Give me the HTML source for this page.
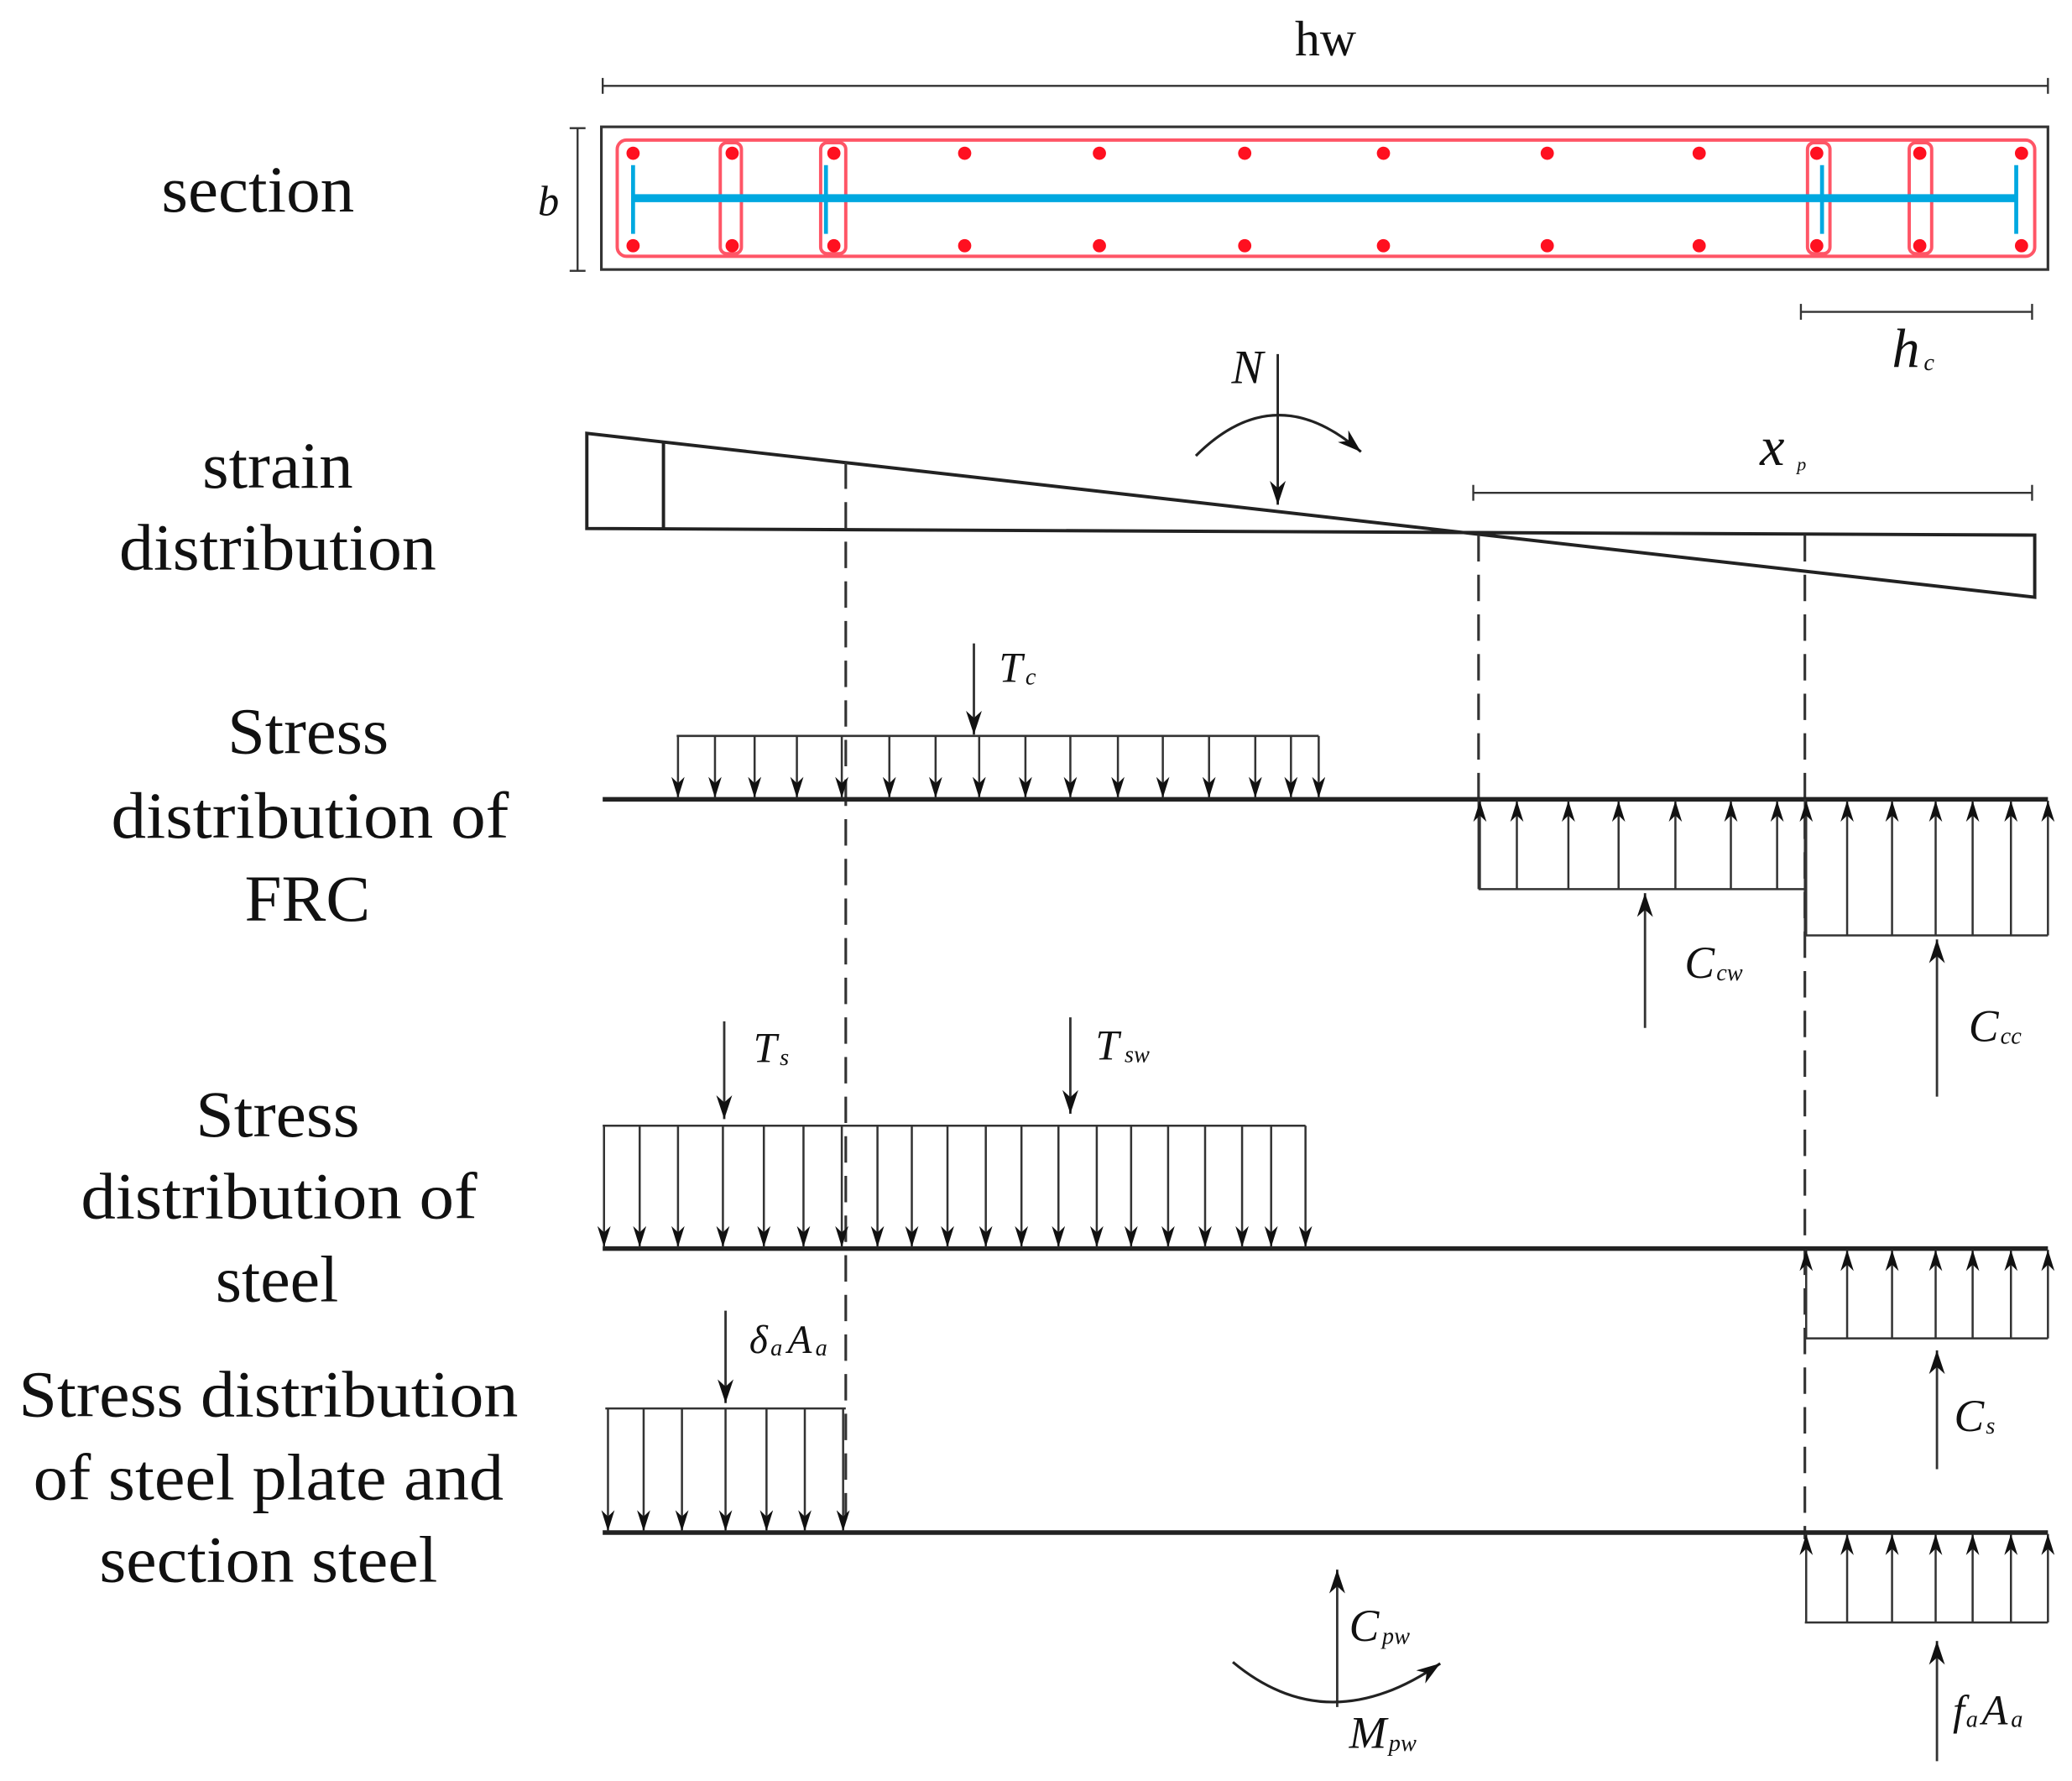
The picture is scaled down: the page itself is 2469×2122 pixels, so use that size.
<!DOCTYPE html>
<html><head><meta charset="utf-8"><style>
html,body{margin:0;padding:0;background:#fff;}
svg{display:block;}
text{font-family:"Liberation Serif",serif;fill:#111;}
.l{font-size:50px;}
.i{font-style:italic;font-size:36px;}
.s{font-size:18px;font-style:italic;}
</style></head><body>
<svg width="2469" height="2122" viewBox="0 0 1568 1348" xmlns="http://www.w3.org/2000/svg">
<defs>
<marker id="a" viewBox="0 0 10 10" refX="10" refY="5" markerWidth="16" markerHeight="10" markerUnits="userSpaceOnUse" orient="auto" preserveAspectRatio="none"><path d="M0,0 L10,5 L0,10 L3,5 Z" fill="#111"/></marker>
<marker id="b" viewBox="0 0 10 10" refX="10" refY="5" markerWidth="18" markerHeight="12" markerUnits="userSpaceOnUse" orient="auto" preserveAspectRatio="none"><path d="M0,0 L10,5 L0,10 L3,5 Z" fill="#111"/></marker>
</defs>
<!-- left labels -->
<text class="l" x="122" y="160" textLength="146" lengthAdjust="spacingAndGlyphs">section</text>
<text class="l" x="153" y="369" textLength="114" lengthAdjust="spacingAndGlyphs">strain</text>
<text class="l" x="90" y="431" textLength="240" lengthAdjust="spacingAndGlyphs">distribution</text>
<text class="l" x="172" y="570" textLength="122" lengthAdjust="spacingAndGlyphs">Stress</text>
<text class="l" x="84" y="634" textLength="301" lengthAdjust="spacingAndGlyphs">distribution of</text>
<text class="l" x="185" y="697" textLength="95" lengthAdjust="spacingAndGlyphs">FRC</text>
<text class="l" x="148" y="860" textLength="124" lengthAdjust="spacingAndGlyphs">Stress</text>
<text class="l" x="61" y="922" textLength="300" lengthAdjust="spacingAndGlyphs">distribution of</text>
<text class="l" x="163" y="985" textLength="93" lengthAdjust="spacingAndGlyphs">steel</text>
<text class="l" x="14" y="1072" textLength="378" lengthAdjust="spacingAndGlyphs">Stress distribution</text>
<text class="l" x="25" y="1135" textLength="356" lengthAdjust="spacingAndGlyphs">of steel plate and</text>
<text class="l" x="75" y="1197" textLength="256" lengthAdjust="spacingAndGlyphs">section steel</text>

<!-- hw dimension -->
<text x="980" y="42" style="font-size:38px">hw</text>
<g stroke="#333" stroke-width="1.5" fill="none">
<line x1="456" y1="65" x2="1550" y2="65"/><line x1="456" y1="59" x2="456" y2="71"/><line x1="1550" y1="59" x2="1550" y2="71"/>
<line x1="437" y1="97" x2="437" y2="205"/><line x1="431" y1="97" x2="443" y2="97"/><line x1="431" y1="205" x2="443" y2="205"/>
<line x1="1363" y1="236" x2="1538" y2="236"/><line x1="1363" y1="230" x2="1363" y2="242"/><line x1="1538" y1="230" x2="1538" y2="242"/>
<line x1="1115" y1="373" x2="1538" y2="373"/><line x1="1115" y1="367" x2="1115" y2="379"/><line x1="1538" y1="367" x2="1538" y2="379"/>
</g>
<text class="i" x="407" y="163" style="font-size:32px">b</text>
<text class="i" x="1432" y="278" style="font-size:42px">h</text><text class="s" x="1456" y="280">c</text>
<text class="i" x="1332" y="352" style="font-size:42px">x</text><text class="s" x="1360" y="356" style="font-size:14px">p</text>

<!-- section -->
<rect x="455" y="96" width="1095" height="108" fill="none" stroke="#333" stroke-width="2"/>
<g fill="none" stroke="#ff5566" stroke-width="2.5">
<rect x="467" y="106" width="1073" height="88" rx="7"/>
<rect x="545" y="108" width="16" height="84" rx="5"/>
<rect x="621" y="108" width="19" height="84" rx="5"/>
<rect x="1368" y="108" width="17" height="84" rx="5"/>
<rect x="1445" y="108" width="17" height="84" rx="5"/>
</g>
<g stroke="#00a8e0" stroke-width="6"><line x1="478" y1="150" x2="1525" y2="150"/></g>
<g stroke="#00a8e0" stroke-width="3">
<line x1="479" y1="125" x2="479" y2="177"/><line x1="625" y1="125" x2="625" y2="177"/>
<line x1="1379" y1="125" x2="1379" y2="177"/><line x1="1526" y1="125" x2="1526" y2="177"/>
</g>
<g fill="#ff1020">
<circle cx="479" cy="116" r="5"/><circle cx="554" cy="116" r="5"/><circle cx="631" cy="116" r="5"/><circle cx="730" cy="116" r="5"/><circle cx="832" cy="116" r="5"/><circle cx="942" cy="116" r="5"/><circle cx="1047" cy="116" r="5"/><circle cx="1171" cy="116" r="5"/><circle cx="1286" cy="116" r="5"/><circle cx="1375" cy="116" r="5"/><circle cx="1453" cy="116" r="5"/><circle cx="1530" cy="116" r="5"/>
<circle cx="479" cy="186" r="5"/><circle cx="554" cy="186" r="5"/><circle cx="631" cy="186" r="5"/><circle cx="730" cy="186" r="5"/><circle cx="832" cy="186" r="5"/><circle cx="942" cy="186" r="5"/><circle cx="1047" cy="186" r="5"/><circle cx="1171" cy="186" r="5"/><circle cx="1286" cy="186" r="5"/><circle cx="1375" cy="186" r="5"/><circle cx="1453" cy="186" r="5"/><circle cx="1530" cy="186" r="5"/>
</g>

<!-- strain -->
<g stroke="#222" stroke-width="2.5" fill="none">
<path d="M444,328 L444,400 L1540,405 L1540,452 Z"/>
<line x1="502" y1="334" x2="502" y2="400"/>
</g>
<line x1="967" y1="268" x2="967" y2="382" stroke="#222" stroke-width="1.8" marker-end="url(#b)"/>
<text class="i" x="932" y="290">N</text>
<path d="M905,345 Q965,285 1030,342" fill="none" stroke="#222" stroke-width="2" marker-end="url(#b)"/>

<!-- dashed -->
<g stroke="#333" stroke-width="2" stroke-dasharray="20,10">
<line x1="640" y1="350" x2="640" y2="1160"/>
<line x1="1119" y1="405" x2="1119" y2="605"/>
<line x1="1366" y1="405" x2="1366" y2="1165"/>
</g>

<!-- baselines -->
<g stroke="#222" stroke-width="3.5">
<line x1="456" y1="605" x2="1550" y2="605"/>
<line x1="456" y1="945" x2="1550" y2="945"/>
<line x1="456" y1="1160" x2="1550" y2="1160"/>
</g>

<g stroke="#333" stroke-width="1.6" fill="none">
<line x1="512" y1="557" x2="998" y2="557"/>
<line x1="1119" y1="605" x2="1119" y2="673"/><line x1="1119" y1="673" x2="1366" y2="673"/>
<line x1="1366" y1="605" x2="1366" y2="708"/><line x1="1366" y1="708" x2="1550" y2="708"/>
<line x1="456" y1="852" x2="988" y2="852"/>
<line x1="1366" y1="1013" x2="1550" y2="1013"/>
<line x1="458" y1="1066" x2="640" y2="1066"/>
<line x1="1366" y1="1228" x2="1550" y2="1228"/>
</g>
<g stroke="#333" stroke-width="1.6" marker-end="url(#a)">
<line x1="513" y1="557" x2="513" y2="604"/><line x1="541" y1="557" x2="541" y2="604"/><line x1="571" y1="557" x2="571" y2="604"/><line x1="603" y1="557" x2="603" y2="604"/><line x1="637" y1="557" x2="637" y2="604"/><line x1="673" y1="557" x2="673" y2="604"/><line x1="708" y1="557" x2="708" y2="604"/><line x1="741" y1="557" x2="741" y2="604"/><line x1="776" y1="557" x2="776" y2="604"/><line x1="810" y1="557" x2="810" y2="604"/><line x1="846" y1="557" x2="846" y2="604"/><line x1="880" y1="557" x2="880" y2="604"/><line x1="915" y1="557" x2="915" y2="604"/><line x1="950" y1="557" x2="950" y2="604"/><line x1="977" y1="557" x2="977" y2="604"/><line x1="998" y1="557" x2="998" y2="604"/>
<line x1="1120" y1="673" x2="1120" y2="606"/><line x1="1148" y1="673" x2="1148" y2="606"/><line x1="1187" y1="673" x2="1187" y2="606"/><line x1="1225" y1="673" x2="1225" y2="606"/><line x1="1268" y1="673" x2="1268" y2="606"/><line x1="1310" y1="673" x2="1310" y2="606"/><line x1="1345" y1="673" x2="1345" y2="606"/>
<line x1="1367" y1="708" x2="1367" y2="606"/><line x1="1398" y1="708" x2="1398" y2="606"/><line x1="1432" y1="708" x2="1432" y2="606"/><line x1="1465" y1="708" x2="1465" y2="606"/><line x1="1493" y1="708" x2="1493" y2="606"/><line x1="1522" y1="708" x2="1522" y2="606"/><line x1="1550" y1="708" x2="1550" y2="606"/>
<line x1="457" y1="852" x2="457" y2="944"/><line x1="484" y1="852" x2="484" y2="944"/><line x1="513" y1="852" x2="513" y2="944"/><line x1="547" y1="852" x2="547" y2="944"/><line x1="578" y1="852" x2="578" y2="944"/><line x1="608" y1="852" x2="608" y2="944"/><line x1="637" y1="852" x2="637" y2="944"/><line x1="664" y1="852" x2="664" y2="944"/><line x1="690" y1="852" x2="690" y2="944"/><line x1="717" y1="852" x2="717" y2="944"/><line x1="746" y1="852" x2="746" y2="944"/><line x1="773" y1="852" x2="773" y2="944"/><line x1="801" y1="852" x2="801" y2="944"/><line x1="830" y1="852" x2="830" y2="944"/><line x1="856" y1="852" x2="856" y2="944"/><line x1="884" y1="852" x2="884" y2="944"/><line x1="912" y1="852" x2="912" y2="944"/><line x1="940" y1="852" x2="940" y2="944"/><line x1="962" y1="852" x2="962" y2="944"/><line x1="988" y1="852" x2="988" y2="944"/>
<line x1="1367" y1="1013" x2="1367" y2="946"/><line x1="1398" y1="1013" x2="1398" y2="946"/><line x1="1432" y1="1013" x2="1432" y2="946"/><line x1="1465" y1="1013" x2="1465" y2="946"/><line x1="1493" y1="1013" x2="1493" y2="946"/><line x1="1522" y1="1013" x2="1522" y2="946"/><line x1="1550" y1="1013" x2="1550" y2="946"/>
<line x1="460" y1="1066" x2="460" y2="1159"/><line x1="487" y1="1066" x2="487" y2="1159"/><line x1="516" y1="1066" x2="516" y2="1159"/><line x1="549" y1="1066" x2="549" y2="1159"/><line x1="580" y1="1066" x2="580" y2="1159"/><line x1="609" y1="1066" x2="609" y2="1159"/><line x1="638" y1="1066" x2="638" y2="1159"/>
<line x1="1367" y1="1228" x2="1367" y2="1161"/><line x1="1398" y1="1228" x2="1398" y2="1161"/><line x1="1432" y1="1228" x2="1432" y2="1161"/><line x1="1465" y1="1228" x2="1465" y2="1161"/><line x1="1493" y1="1228" x2="1493" y2="1161"/><line x1="1522" y1="1228" x2="1522" y2="1161"/><line x1="1550" y1="1228" x2="1550" y2="1161"/>
</g>
<g stroke="#333" stroke-width="1.8" marker-end="url(#b)">
<line x1="737" y1="487" x2="737" y2="556"/>
<line x1="1245" y1="778" x2="1245" y2="676"/>
<line x1="1466" y1="830" x2="1466" y2="711"/>
<line x1="548" y1="773" x2="548" y2="847"/>
<line x1="810" y1="770" x2="810" y2="843"/>
<line x1="1466" y1="1112" x2="1466" y2="1022"/>
<line x1="549" y1="992" x2="549" y2="1062"/>
<line x1="1466" y1="1333" x2="1466" y2="1242"/>
<line x1="1012" y1="1292" x2="1012" y2="1188"/>
</g>
<path d="M933,1258 Q1005,1318 1090,1259" fill="none" stroke="#222" stroke-width="2" marker-end="url(#b)"/>
<text class="i" x="756" y="516" style="font-size:32px">T</text><text class="s" x="776" y="518">c</text>
<text class="i" x="1275" y="740" style="font-size:34px">C</text><text class="s" x="1299" y="742">cw</text>
<text class="i" x="1490" y="788" style="font-size:34px">C</text><text class="s" x="1514" y="790">cc</text>
<text class="i" x="570" y="804" style="font-size:32px">T</text><text class="s" x="590" y="806">s</text>
<text class="i" x="829" y="802" style="font-size:32px">T</text><text class="s" x="851" y="804">sw</text>
<text class="i" x="1479" y="1083" style="font-size:34px">C</text><text class="s" x="1503" y="1085">s</text>
<text class="i" x="567" y="1024" style="font-size:30px">δ</text><text class="s" x="583" y="1026">a</text><text class="i" x="596" y="1024" style="font-size:30px">A</text><text class="s" x="617" y="1026">a</text>
<text class="i" x="1478" y="1305" style="font-size:32px">f</text><text class="s" x="1488" y="1307">a</text><text class="i" x="1500" y="1305" style="font-size:32px">A</text><text class="s" x="1522" y="1307">a</text>
<text class="i" x="1021" y="1242" style="font-size:34px">C</text><text class="s" x="1046" y="1244">pw</text>
<text class="i" x="1021" y="1323" style="font-size:34px">M</text><text class="s" x="1051" y="1325">pw</text>
</svg>
</body></html>
